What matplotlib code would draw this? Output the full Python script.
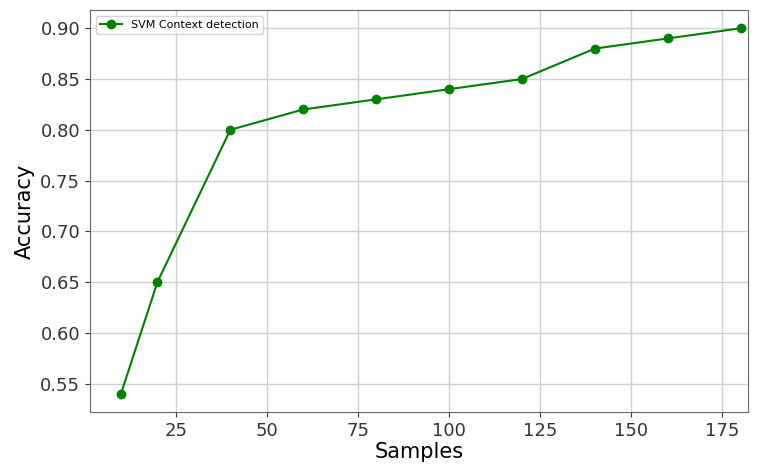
import matplotlib.pyplot as plt

samples = [10, 20, 40, 60, 80, 100, 120, 140, 160, 180]
accuracy = [0.54, 0.65, 0.80, 0.82, 0.83, 0.84, 0.85, 0.88, 0.89, 0.90]

fig = plt.figure(figsize=(7.62, 4.66), dpi=100)
ax = fig.add_axes([90/762, 1-412/466, 658/762, 402/466])

ax.plot(samples, accuracy, color='green', marker='o', markersize=6,
        linewidth=1.5, label='SVM Context detection')

ax.set_xlim(1.5, 182)
ax.set_ylim(0.522, 0.918)
ax.set_xticks([25, 50, 75, 100, 125, 150, 175])
ax.set_yticks([0.55, 0.60, 0.65, 0.70, 0.75, 0.80, 0.85, 0.90])
ax.grid(True, color='#d0d0d0', linewidth=1)
ax.tick_params(labelsize=13, colors='#333333')
for s in ax.spines.values():
    s.set_color('#666666')

ax.set_xlabel('Samples', fontsize=15, labelpad=2)
ax.set_ylabel('Accuracy', fontsize=15)
ax.legend(loc='upper left', fontsize=8)

fig.savefig('out.png', dpi=100)
